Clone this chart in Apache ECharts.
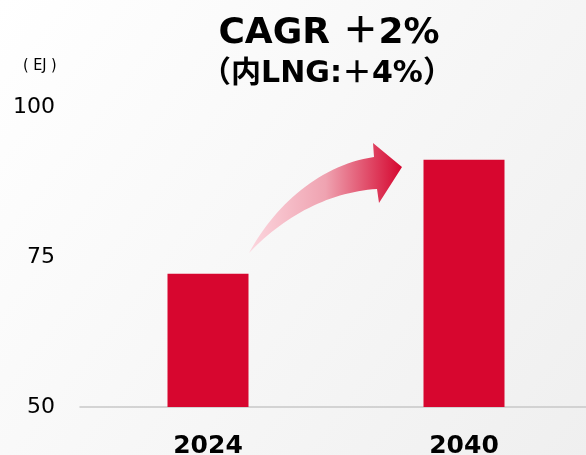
<!DOCTYPE html>
<html>
<head>
<meta charset="utf-8">
<script src="https://cdn.jsdelivr.net/npm/echarts@6/dist/echarts.min.js"></script>
<style>html,body{margin:0;padding:0;overflow:hidden;}#c{width:592px;height:455px;}</style>
</head>
<body>
<div id="c"></div>
<script>
const categories = ['2024', '2040'];
const demandValues = [72.2, 91.2];
const yTicks = { min: 50, max: 100, interval: 25 };
const unitLabel = '( EJ )';
const titleMain = 'CAGR ＋2%';
const titleSub = '（内LNG:＋4%）';

const FONT = '"DejaVu Sans", "Noto Sans CJK JP", sans-serif';

function bez(p0, p1, p2, p3, n) {
  const pts = [];
  for (let i = 0; i <= n; i++) {
    const t = i / n, u = 1 - t;
    pts.push([
      u*u*u*p0[0] + 3*u*u*t*p1[0] + 3*u*t*t*p2[0] + t*t*t*p3[0],
      u*u*u*p0[1] + 3*u*u*t*p1[1] + 3*u*t*t*p2[1] + t*t*t*p3[1]
    ]);
  }
  return pts;
}
const arrowPts = [].concat(
  bez([249,253],[275,205],[320,165],[374,157], 30),
  [[373,143],[402,167],[379,203]],
  bez([377,189],[330,192],[285,215],[249,253], 30)
);

const chart = echarts.init(document.getElementById('c'), null, { renderer: 'canvas' });
chart.setOption({
  backgroundColor: new echarts.graphic.LinearGradient(0, 0, 1, 1, [
    { offset: 0, color: '#ffffff' }, { offset: 1, color: '#efefef' }
  ]),
  animation: false,
  title: [
    { text: titleMain, left: 324, top: 11, textAlign: 'center',
      textStyle: { fontFamily: FONT, fontWeight: 'bold', fontSize: 36, color: '#000' } },
    { text: titleSub, left: 322, top: 54, textAlign: 'center',
      textStyle: { fontFamily: FONT, fontWeight: 'bold', fontSize: 30, color: '#000' } },
    { text: unitLabel, left: 18, top: 53,
      textStyle: { fontFamily: '"DejaVu Sans Condensed", "DejaVu Sans", sans-serif', fontWeight: 'normal', fontSize: 16, color: '#000' } }
  ],
  grid: { left: 80, right: 0, top: 107, bottom: 48, containLabel: false, outerBoundsMode: 'none' },
  xAxis: {
    type: 'category', data: categories,
    axisLine: { lineStyle: { color: '#c8c8c8', width: 1.5 } },
    axisTick: { show: false },
    axisLabel: { fontFamily: FONT, fontWeight: 'bold', fontSize: 25, color: '#000', margin: 27 }
  },
  yAxis: {
    type: 'value', min: yTicks.min, max: yTicks.max, interval: yTicks.interval,
    axisLine: { show: false }, axisTick: { show: false }, splitLine: { show: false },
    axisLabel: { fontFamily: FONT, fontSize: 22, color: '#000', margin: 25, padding: [4, 0, 0, 0] }
  },
  series: [{
    type: 'bar', data: demandValues, barWidth: 81,
    itemStyle: { color: '#d7062f' }
  }],
  graphic: [{
    type: 'polygon', z: 10,
    shape: { points: arrowPts },
    style: {
      fill: new echarts.graphic.LinearGradient(0, 0, 1, 0, [
        { offset: 0, color: '#fcd6de' }, { offset: 0.5, color: '#efa3b1' }, { offset: 1, color: '#d5062f' }
      ])
    }
  }]
});
</script>
</body>
</html>
